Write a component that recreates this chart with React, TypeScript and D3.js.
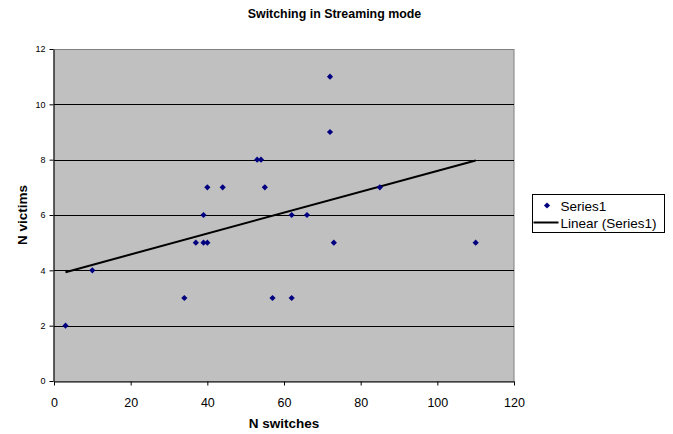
import { useEffect, useRef } from "react";
import * as d3 from "d3";

const switches = [3, 10, 34, 37, 39, 39, 40, 40, 44, 53, 54, 55, 57, 62, 62, 66, 72, 72, 73, 85, 110];
const victims = [2, 4, 3, 5, 6, 5, 5, 7, 7, 8, 8, 7, 3, 6, 3, 6, 11, 9, 5, 7, 5];
const xTicks = [0, 20, 40, 60, 80, 100, 120];
const yTicks = [0, 2, 4, 6, 8, 10, 12];

const App = () => {
  const chartRef = useRef<SVGSVGElement>(null);

  useEffect(() => {
    if (!chartRef.current) return;
    const width = 673;
    const height = 434;
    const margin = { top: 49, right: 159, bottom: 53, left: 54 };
    const font = "Arial, 'Liberation Sans', sans-serif";

    const svg = d3.select(chartRef.current);
    svg.selectAll("*").remove();

    const x = d3.scaleLinear().domain([0, 120]).range([margin.left, width - margin.right]);
    const y = d3.scaleLinear().domain([0, 12]).range([height - margin.bottom, margin.top]);

    // plot area
    svg
      .append("rect")
      .attr("x", x(0))
      .attr("y", Math.round(y(12)) + 0.5)
      .attr("width", x(120) - x(0))
      .attr("height", y(0) - y(12))
      .attr("fill", "#c0c0c0")
      .attr("stroke", "#808080");

    // gridlines
    svg
      .append("g")
      .selectAll("line")
      .data(yTicks.filter((t) => t > 0 && t < 12))
      .join("line")
      .attr("x1", x(0))
      .attr("x2", x(120))
      .attr("y1", (d) => Math.round(y(d)) + 0.5)
      .attr("y2", (d) => Math.round(y(d)) + 0.5)
      .attr("stroke", "#000");

    // axes
    const xAxis = svg
      .append("g")
      .attr("transform", `translate(0,${Math.round(y(0)) + 0.5})`)
      .call(d3.axisBottom(x).tickValues(xTicks).tickSize(4).tickSizeOuter(0).tickPadding(13));
    xAxis.selectAll("text").attr("font-size", 12.5).attr("font-family", font).attr("fill", "#000");
    xAxis.select(".domain").attr("stroke", "#000");

    const yAxis = svg
      .append("g")
      .attr("transform", `translate(${Math.round(x(0)) - 0.5},0)`)
      .call(d3.axisLeft(y).tickValues(yTicks).tickSize(4).tickSizeOuter(0).tickPadding(4));
    yAxis.selectAll("text").attr("font-size", 9).attr("font-family", font).attr("fill", "#000");
    yAxis.select(".domain").attr("stroke", "#000");

    // trendline (least squares on the points)
    const n = switches.length;
    const mx = d3.mean(switches) as number;
    const my = d3.mean(victims) as number;
    let sxy = 0;
    let sxx = 0;
    for (let i = 0; i < n; i++) {
      sxy += (switches[i] - mx) * (victims[i] - my);
      sxx += (switches[i] - mx) ** 2;
    }
    const slope = sxy / sxx;
    const icpt = my - slope * mx;
    const xmin = d3.min(switches) as number;
    const xmax = d3.max(switches) as number;
    const line = d3
      .line<number>()
      .x((d) => x(d))
      .y((d) => y(icpt + slope * d));
    svg
      .append("path")
      .datum([xmin, xmax])
      .attr("d", line)
      .attr("fill", "none")
      .attr("stroke", "#000")
      .attr("stroke-width", 2);

    // points - square turned 45deg, like excel's diamond marker
    const diamond = d3.symbol(d3.symbolSquare, 19);
    svg
      .append("g")
      .selectAll("path")
      .data(switches.map((s, i) => [s, victims[i]]))
      .join("path")
      .attr("d", diamond)
      .attr("transform", (d) => `translate(${x(d[0])},${y(d[1])}) rotate(45)`)
      .attr("fill", "#000080");

    // title + labels
    svg
      .append("text")
      .attr("x", 334.5)
      .attr("y", 18)
      .attr("text-anchor", "middle")
      .attr("font-family", font)
      .attr("font-weight", "bold")
      .attr("font-size", 12.4)
      .text("Switching in Streaming mode");

    svg
      .append("text")
      .attr("x", (x(0) + x(120)) / 2)
      .attr("y", 428)
      .attr("text-anchor", "middle")
      .attr("font-family", font)
      .attr("font-weight", "bold")
      .attr("font-size", 13.5)
      .text("N switches");

    svg
      .append("text")
      .attr("transform", `translate(27,${(y(0) + y(12)) / 2}) rotate(-90)`)
      .attr("text-anchor", "middle")
      .attr("font-family", font)
      .attr("font-weight", "bold")
      .attr("font-size", 13.5)
      .text("N victims");

    // legend
    const lg = svg.append("g").attr("transform", "translate(532.5,194.5)");
    lg.append("rect").attr("width", 132).attr("height", 38).attr("fill", "#fff").attr("stroke", "#000");
    lg.append("path").attr("d", diamond).attr("transform", "translate(14.5,11) rotate(45)").attr("fill", "#000080");
    lg.append("text")
      .attr("x", 28)
      .attr("y", 16)
      .attr("font-family", font)
      .attr("font-size", 13.5)
      .text("Series1");
    lg.append("line").attr("x1", 1).attr("x2", 26).attr("y1", 28).attr("y2", 28).attr("stroke", "#000").attr("stroke-width", 2);
    lg.append("text")
      .attr("x", 28)
      .attr("y", 33)
      .attr("font-family", font)
      .attr("font-size", 13.5)
      .text("Linear (Series1)");
  }, []);

  return (
    <svg
      ref={chartRef}
      width={673}
      height={434}
      style={{ position: "absolute", left: 0, top: 0, background: "#fff" }}
    />
  );
};

export default App;
